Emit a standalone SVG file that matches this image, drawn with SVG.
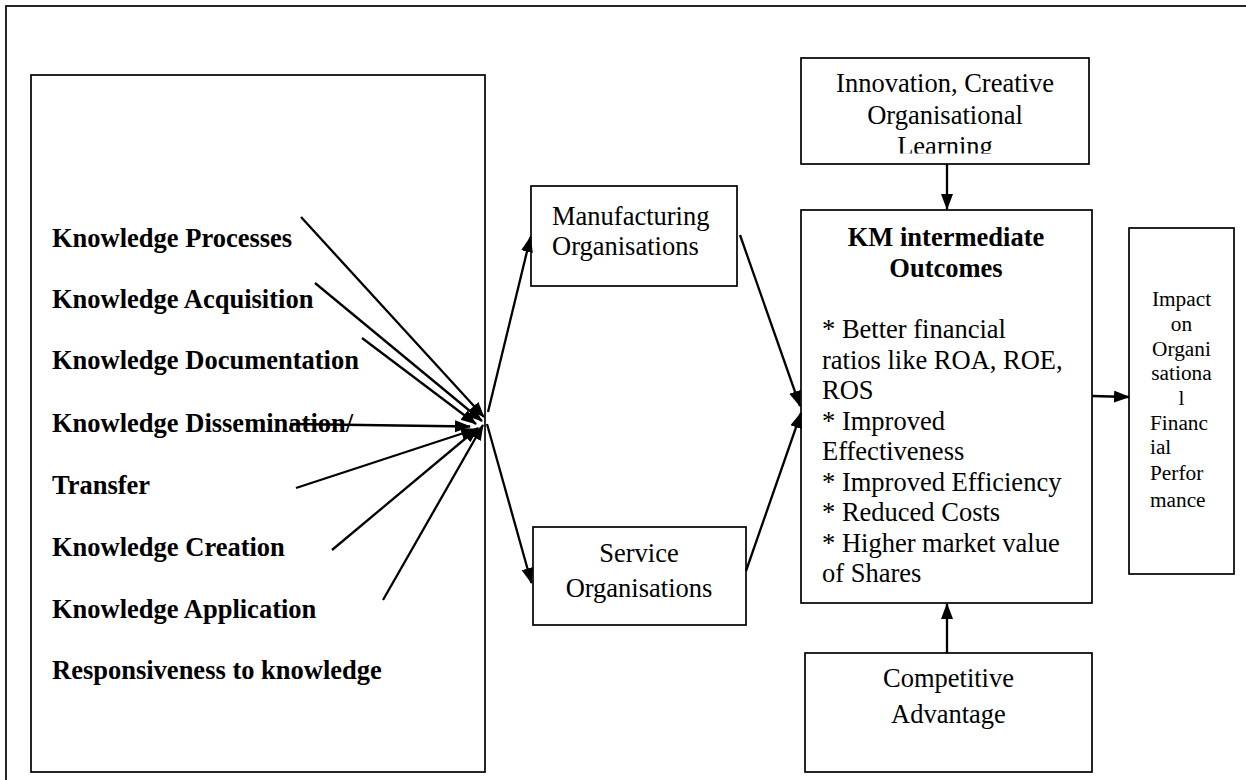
<svg xmlns="http://www.w3.org/2000/svg" width="1246" height="780" viewBox="0 0 1246 780">
<style>
.box{fill:#fff;stroke:#000;stroke-width:1.7}
.frame{fill:none;stroke:#000;stroke-width:1.7}
.t{font-family:"Liberation Serif","Times New Roman",serif;font-size:26.5px;fill:#000}
.b{font-weight:bold}
.s{font-family:"Liberation Serif","Times New Roman",serif;font-size:21.3px;fill:#000}
.c{text-anchor:middle}
.ar{fill:none;stroke:#000;stroke-width:2.3;marker-end:url(#ah)}
</style>
<defs>
<marker id="ah" markerUnits="userSpaceOnUse" markerWidth="17" markerHeight="13" refX="15" refY="6" orient="auto">
<path d="M0,0 L16,6 L0,12 z" fill="#000"/>
</marker>
<clipPath id="clipInno"><rect x="801" y="58" width="288" height="95.5"/></clipPath>
</defs>
<rect x="6" y="6" width="1260" height="800" class="frame"/>
<g id="knowledge-processes">
<rect x="31" y="75" width="454" height="697" class="box"/>
<text class="t b" x="52" y="247">Knowledge Processes</text>
<text class="t b" x="52" y="308">Knowledge Acquisition</text>
<text class="t b" x="52" y="369">Knowledge Documentation</text>
<text class="t b" x="52" y="432">Knowledge Dissemination/</text>
<text class="t b" x="52" y="494">Transfer</text>
<text class="t b" x="52" y="556">Knowledge Creation</text>
<text class="t b" x="52" y="618">Knowledge Application</text>
<text class="t b" x="52" y="679">Responsiveness to knowledge</text>
</g>
<g id="manufacturing">
<rect x="531" y="186" width="206" height="100" class="box"/>
<text class="t" x="552" y="225">Manufacturing</text>
<text class="t" x="552" y="255">Organisations</text>
</g>
<g id="service">
<rect x="533" y="527" width="213" height="98" class="box"/>
<text class="t c" x="639" y="562">Service</text>
<text class="t c" x="639" y="597">Organisations</text>
</g>
<g id="innovation">
<rect x="801" y="58" width="288" height="106" class="box"/>
<g clip-path="url(#clipInno)">
<text class="t c" x="945" y="92">Innovation, Creative</text>
<text class="t c" x="945" y="123.5">Organisational</text>
<text class="t c" x="945" y="155">Learning</text>
</g>
</g>
<g id="km-outcomes">
<rect x="801" y="210" width="291" height="393" class="box"/>
<text class="t b c" x="946" y="246">KM intermediate</text>
<text class="t b c" x="946" y="277">Outcomes</text>
<text class="t" x="822" y="338">* Better financial</text>
<text class="t" x="822" y="368.5">ratios like ROA, ROE,</text>
<text class="t" x="822" y="399">ROS</text>
<text class="t" x="822" y="429.5">* Improved</text>
<text class="t" x="822" y="460">Effectiveness</text>
<text class="t" x="822" y="490.5">* Improved Efficiency</text>
<text class="t" x="822" y="521">* Reduced Costs</text>
<text class="t" x="822" y="551.5">* Higher market value</text>
<text class="t" x="822" y="582">of Shares</text>
</g>
<g id="impact">
<rect x="1129" y="228" width="105" height="346" class="box"/>
<text class="s c" x="1181.5" y="306">Impact</text>
<text class="s c" x="1181.5" y="331">on</text>
<text class="s c" x="1181.5" y="356">Organi</text>
<text class="s c" x="1181.5" y="380">sationa</text>
<text class="s c" x="1181.5" y="405">l</text>
<text class="s" x="1150" y="430">Financ</text>
<text class="s" x="1150" y="454">ial</text>
<text class="s" x="1150" y="480">Perfor</text>
<text class="s" x="1150" y="507">mance</text>
</g>
<g id="competitive">
<rect x="805" y="653" width="287" height="119" class="box"/>
<text class="t c" x="948.5" y="687">Competitive</text>
<text class="t c" x="948.5" y="723">Advantage</text>
</g>
<g id="connectors">
<line class="ar" x1="301" y1="217" x2="484" y2="417"/>
<line class="ar" x1="315" y1="283" x2="482" y2="421"/>
<line class="ar" x1="362" y1="338" x2="476" y2="424"/>
<line class="ar" x1="290" y1="424" x2="470" y2="426.5"/>
<line class="ar" x1="296" y1="488" x2="476" y2="429"/>
<line class="ar" x1="332" y1="550" x2="478" y2="428"/>
<line class="ar" x1="383" y1="600" x2="483" y2="425"/>
<line class="ar" x1="488" y1="412" x2="530.5" y2="237"/>
<line class="ar" x1="487" y1="424" x2="531.5" y2="583"/>
<line class="ar" x1="740" y1="235" x2="800" y2="406"/>
<line class="ar" x1="746" y1="571" x2="801" y2="413"/>
<line class="ar" x1="947" y1="164" x2="947" y2="209"/>
<line class="ar" x1="947" y1="653" x2="947" y2="604"/>
<line class="ar" x1="1092" y1="396" x2="1129" y2="397"/>
</g>
</svg>
